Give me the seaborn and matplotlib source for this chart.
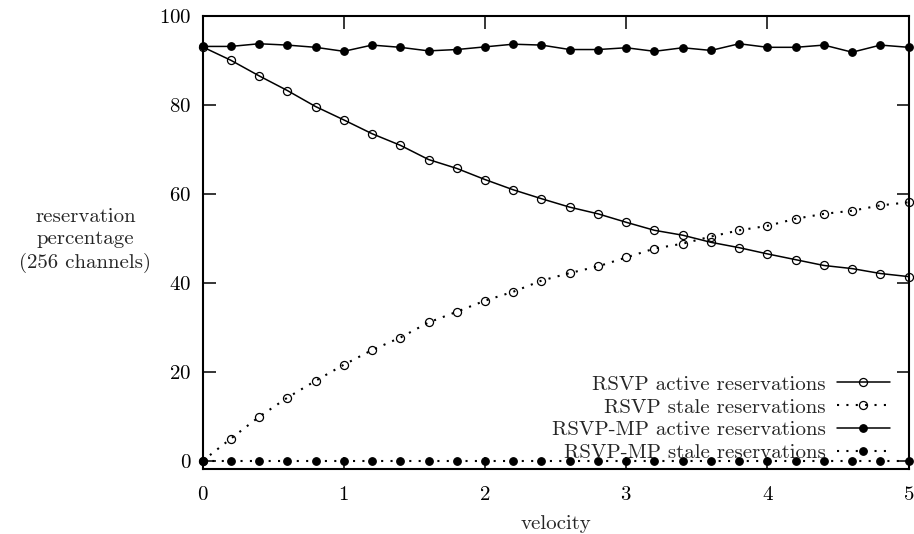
import matplotlib
matplotlib.use("Agg")
import matplotlib.pyplot as plt
import seaborn as sns
import pandas as pd

# velocity samples
velocity = [0.0, 0.2, 0.4, 0.6, 0.8, 1.0, 1.2, 1.4, 1.6, 1.8, 2.0, 2.2, 2.4,
            2.6, 2.8, 3.0, 3.2, 3.4, 3.6, 3.8, 4.0, 4.2, 4.4, 4.6, 4.8, 5.0]

rsvp_active = [93.0, 90.0, 86.5, 83.2, 79.6, 76.6, 73.5, 70.9, 67.7, 65.7, 63.2, 60.9, 58.9,
               57.0, 55.5, 53.6, 51.8, 50.7, 49.1, 47.9, 46.5, 45.2, 43.9, 43.2, 42.1, 41.4]
rsvp_stale = [0.0, 5.0, 9.9, 14.2, 18.0, 21.6, 24.9, 27.7, 31.1, 33.5, 36.0, 38.0, 40.5,
              42.2, 43.7, 45.7, 47.7, 48.8, 50.4, 51.8, 52.8, 54.4, 55.5, 56.2, 57.4, 58.1]
mp_active = [93.1, 93.1, 93.7, 93.4, 92.9, 92.0, 93.4, 92.9, 92.1, 92.4, 93.0, 93.6, 93.4,
             92.4, 92.4, 92.8, 92.0, 92.8, 92.2, 93.7, 92.9, 92.9, 93.4, 91.8, 93.4, 92.9]
mp_stale = [0.0] * len(velocity)

labels = ["RSVP active reservations", "RSVP stale reservations",
          "RSVP-MP active reservations", "RSVP-MP stale reservations"]

df = pd.DataFrame({"velocity": velocity, labels[0]: rsvp_active, labels[1]: rsvp_stale,
                   labels[2]: mp_active, labels[3]: mp_stale})

sns.set_theme(style="ticks")
plt.rcParams['font.family'] = ['cmr10', 'DejaVu Serif']
plt.rcParams['axes.formatter.use_mathtext'] = True
FS = 15

fig = plt.figure(figsize=(9.14, 5.34), dpi=100)
ax = fig.add_axes([0.2216, 0.1212, 0.7726, 0.8494])

dotted = (0, (1, 3.5))
styles = [
    dict(linestyle="-", linewidth=1.1, marker="o", markerfacecolor="none", markersize=5.8),
    dict(linestyle=dotted, linewidth=1.5, marker="o", markerfacecolor="none", markersize=5.8),
    dict(linestyle="-", linewidth=1.1, marker="o", markerfacecolor="black", markersize=5.4),
    dict(linestyle=dotted, linewidth=1.5, marker="o", markerfacecolor="black", markersize=5.4),
]
for lab, st in zip(labels, styles):
    sns.lineplot(data=df, x="velocity", y=lab, ax=ax, color="black",
                 markeredgecolor="black", markeredgewidth=0.9, dash_capstyle="butt",
                 label=lab, clip_on=False, zorder=3, **st)

ax.set_xlim(0, 5)
ax.set_ylim(-1.87, 100)
ax.set_xticks([0, 1, 2, 3, 4, 5])
ax.set_yticks([0, 20, 40, 60, 80, 100])
ax.tick_params(direction="in", length=9, width=1.1, top=True, right=True,
               labelsize=FS, colors="black")
ax.tick_params(axis="x", pad=12)
ax.tick_params(axis="y", pad=8)
for sp in ax.spines.values():
    sp.set_linewidth(1.5)
    sp.set_color("black")

ax.set_xlabel("velocity", fontsize=FS, labelpad=8)
ax.set_ylabel("reservation\npercentage\n(256 channels)", fontsize=FS, rotation=0,
              ha="center", va="center", linespacing=1.3)
ax.yaxis.set_label_coords(-0.166, 0.505)

leg = ax.legend(loc="lower right", bbox_to_anchor=(0.973, 0.016), frameon=False,
                markerfirst=False, fontsize=FS, handlelength=2.55, handletextpad=0.5,
                labelspacing=0.2, borderpad=0.0, borderaxespad=0.0)

fig.savefig("out.png", dpi=100)
